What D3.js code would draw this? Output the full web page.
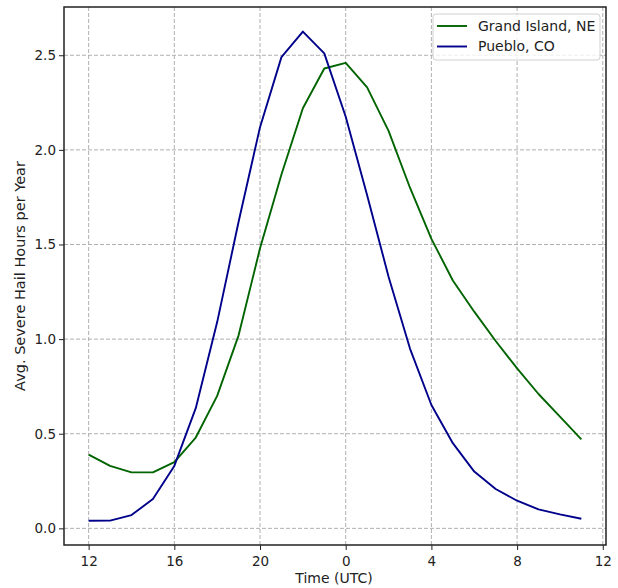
<!DOCTYPE html>
<html lang="en">
<head>
  <meta charset="UTF-8">
  <title>Severe Hail Hours by Time of Day</title>
  <script src="https://d3js.org/d3.v7.min.js"></script>
  <style>
    body { margin: 0; background: #fff; }
    svg { display: block; font-family: "DejaVu Sans", sans-serif; }
  </style>
</head>
<body>
  <svg width="618" height="588"></svg>

  <script>
    // hour of day (UTC), one point per hour starting at 12
    const hours = [12, 13, 14, 15, 16, 17, 18, 19, 20, 21, 22, 23, 0, 1, 2, 3, 4, 5, 6, 7, 8, 9, 10, 11];
    const grandIsland = [0.39, 0.33, 0.296, 0.296, 0.35, 0.48, 0.70, 1.02, 1.48, 1.87, 2.22, 2.43,
                         2.46, 2.33, 2.10, 1.80, 1.53, 1.31, 1.145, 0.99, 0.845, 0.71, 0.59, 0.47];
    const pueblo = [0.04, 0.041, 0.07, 0.155, 0.33, 0.635, 1.09, 1.62, 2.12, 2.49, 2.625, 2.51,
                    2.175, 1.76, 1.33, 0.95, 0.652, 0.45, 0.30, 0.208, 0.146, 0.10, 0.074, 0.051];
    const seriesNames = ["Grand Island, NE", "Pueblo, CO"];
    const xTickPos = [0, 4, 8, 12, 16, 20, 24];
    const xTickLabels = ["12", "16", "20", "0", "4", "8", "12"];
    const yTicks = [0, 0.5, 1.0, 1.5, 2.0, 2.5];

    const series = [
      { name: seriesNames[0], values: grandIsland, color: "#006400" },
      { name: seriesNames[1], values: pueblo, color: "#00008b" }
    ];

    // plot box (note: "top" is a reserved global in browsers)
    const box = { left: 64, right: 606, top: 7, bottom: 545 };
    const svg = d3.select("svg");

    // matplotlib-like 5% padding around the data
    const x = d3.scaleLinear().domain([-1.15, 24.15]).range([box.left, box.right]);
    const y = d3.scaleLinear().domain([-0.088, 2.755]).range([box.bottom, box.top]);

    // grid
    const grid = svg.append("g")
      .attr("stroke", "#b0b0b0")
      .attr("stroke-width", 1)
      .attr("stroke-dasharray", "4,2");
    grid.selectAll("line.vx")
      .data(xTickPos)
      .enter().append("line")
      .attr("x1", d => x(d)).attr("x2", d => x(d))
      .attr("y1", box.top).attr("y2", box.bottom);
    grid.selectAll("line.hy")
      .data(yTicks)
      .enter().append("line")
      .attr("y1", d => y(d)).attr("y2", d => y(d))
      .attr("x1", box.left).attr("x2", box.right);

    // lines
    const line = d3.line()
      .x((d, i) => x(i))
      .y(d => y(d));
    svg.selectAll("path.series")
      .data(series)
      .enter().append("path")
      .attr("class", "series")
      .attr("d", d => line(d.values))
      .attr("fill", "none")
      .attr("stroke", d => d.color)
      .attr("stroke-width", 1.9)
      .attr("stroke-linejoin", "round");

    // axes
    const xAxis = d3.axisBottom(x)
      .tickValues(xTickPos)
      .tickFormat((d, i) => xTickLabels[i])
      .tickSizeOuter(0)
      .tickSize(5);
    const gx = svg.append("g")
      .attr("transform", "translate(0," + box.bottom + ")")
      .call(xAxis);

    const yAxis = d3.axisLeft(y)
      .tickValues(yTicks)
      .tickFormat(d3.format(".1f"))
      .tickSizeOuter(0)
      .tickSize(5);
    const gy = svg.append("g")
      .attr("transform", "translate(" + box.left + ",0)")
      .call(yAxis);

    [gx, gy].forEach(g => {
      g.select(".domain").remove();
      g.selectAll(".tick line").attr("stroke", "#222").attr("stroke-width", 1);
      g.selectAll(".tick text")
        .attr("fill", "#222")
        .style("font-family", "DejaVu Sans, sans-serif")
        .style("font-size", "13.5px");
    });
    gx.selectAll(".tick text").attr("dy", "0.95em").attr("y", 8);
    gy.selectAll(".tick text").attr("x", -8);

    // frame
    svg.append("rect")
      .attr("x", box.left).attr("y", box.top)
      .attr("width", box.right - box.left).attr("height", box.bottom - box.top)
      .attr("fill", "none")
      .attr("stroke", "#222")
      .attr("stroke-width", 1.5);

    // axis titles
    svg.append("text")
      .attr("x", 334)
      .attr("y", 583)
      .attr("text-anchor", "middle")
      .attr("fill", "#222")
      .style("font-size", "14px")
      .text("Time (UTC)");
    svg.append("text")
      .attr("transform", "translate(25," + ((box.top + box.bottom) / 2) + ") rotate(-90)")
      .attr("text-anchor", "middle")
      .attr("fill", "#222")
      .style("font-size", "14.5px")
      .text("Avg. Severe Hail Hours per Year");

    // legend
    const legend = svg.append("g").attr("transform", "translate(433,14)");
    legend.append("rect")
      .attr("width", 167).attr("height", 46)
      .attr("rx", 3)
      .attr("fill", "#fff").attr("fill-opacity", 0.8)
      .attr("stroke", "#d0d0d0");
    const items = legend.selectAll("g.item")
      .data(series)
      .enter().append("g")
      .attr("transform", (d, i) => "translate(0," + (12 + i * 20.5) + ")");
    items.append("line")
      .attr("x1", 4).attr("x2", 34)
      .attr("stroke", d => d.color)
      .attr("stroke-width", 1.9);
    items.append("text")
      .attr("x", 45).attr("dy", "0.35em")
      .attr("fill", "#222")
      .style("font-size", "14px")
      .text(d => d.name);
  </script>
</body>
</html>
